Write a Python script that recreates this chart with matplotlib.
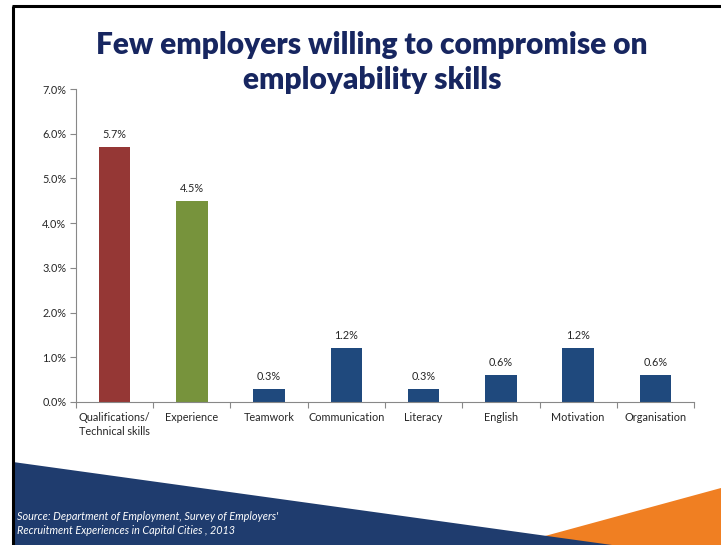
import matplotlib.pyplot as plt
from matplotlib.patches import Polygon
from matplotlib.ticker import FuncFormatter, MultipleLocator

categories = ["Qualifications/\nTechnical skills", "Experience", "Teamwork", "Communication",
              "Literacy", "English", "Motivation", "Organisation"]
values = [5.7, 4.5, 0.3, 1.2, 0.3, 0.6, 1.2, 0.6]
bar_colors = ["#953735", "#77933c", "#1f497d", "#1f497d", "#1f497d", "#1f497d", "#1f497d", "#1f497d"]
labels = ["5.7%", "4.5%", "0.3%", "1.2%", "0.3%", "0.6%", "1.2%", "0.6%"]

plt.rcParams['font.family'] = ['Lato', 'DejaVu Sans']

W, H = 721, 545
fig = plt.figure(figsize=(W / 100, H / 100), dpi=100)

# background decoration in pixel coordinates
bg = fig.add_axes([0, 0, 1, 1])
bg.set_xlim(0, W)
bg.set_ylim(H, 0)
bg.axis('off')
bg.add_patch(Polygon([(545, 536), (721, 488), (721, 545), (545, 545)], closed=True,
                     facecolor="#f07f22", edgecolor='none'))
bg.add_patch(Polygon([(13, 462), (612, 545), (13, 545)], closed=True,
                     facecolor="#1f3c6e", edgecolor='none'))
bg.plot([13, 13], [6, 545], color='black', lw=2.2, solid_capstyle='butt')
bg.plot([12, 721], [6, 6], color='black', lw=2.2, solid_capstyle='butt')

bg.text(372, 45, "Few employers willing to compromise on", ha='center', va='center',
        fontsize=21.5, fontweight='heavy', color="#172660")
bg.text(372, 80, "employability skills", ha='center', va='center',
        fontsize=21.5, fontweight='heavy', color="#172660")
bg.text(17, 516, "Source: Department of Employment, Survey of Employers'", ha='left', va='center',
        fontsize=7.8, style='italic', color='white')
bg.text(17, 530, "Recruitment Experiences in Capital Cities , 2013", ha='left', va='center',
        fontsize=7.8, style='italic', color='white')

# bar chart
left, right, bottom, top = 76, 694, 402, 89
ax = fig.add_axes([left / W, (H - bottom) / H, (right - left) / W, (bottom - top) / H])
ax.patch.set_alpha(0)
x = list(range(len(categories)))
ax.bar(x, values, width=0.41, color=bar_colors)
for xi, v, lab in zip(x, values, labels):
    ax.annotate(lab, (xi, v), xytext=(0, 5), textcoords='offset points',
                ha='center', va='bottom', fontsize=7.8, color='#262626')

ax.set_xlim(-0.5, len(categories) - 0.5)
ax.set_ylim(0, 7.0)
ax.yaxis.set_major_locator(MultipleLocator(1.0))
ax.yaxis.set_major_formatter(FuncFormatter(lambda v, p: f"{v:.1f}%"))
ax.set_xticks(x)
ax.set_xticklabels(categories, fontsize=7.8, color='#262626', linespacing=1.35)
ax.set_xticks([i - 0.5 for i in range(len(categories) + 1)], minor=True)
ax.tick_params(axis='x', which='major', length=0, pad=7)
ax.tick_params(axis='x', which='minor', length=4, color='#888888', width=0.8)
ax.tick_params(axis='y', length=4, color='#888888', width=0.8, labelsize=7.8,
               labelcolor='#262626', pad=3)
for s in ['top', 'right']:
    ax.spines[s].set_visible(False)
for s in ['left', 'bottom']:
    ax.spines[s].set_color('#888888')
    ax.spines[s].set_linewidth(0.8)

fig.savefig("out.png", dpi=100)
